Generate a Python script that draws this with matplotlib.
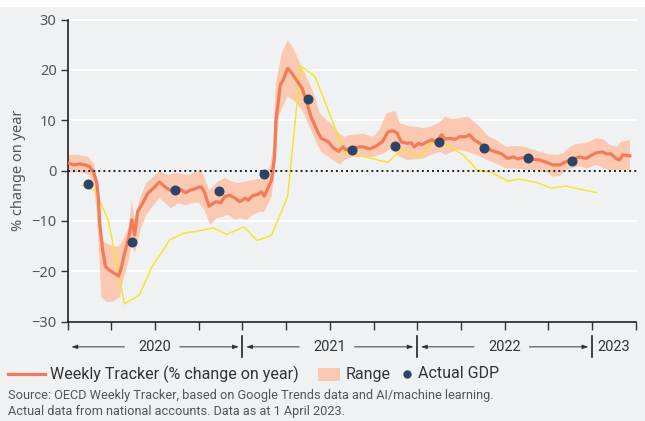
import numpy as np
import matplotlib
matplotlib.use("Agg")
import matplotlib.pyplot as plt
from matplotlib.lines import Line2D
from matplotlib.patches import Rectangle

    # x values are months since 1 Jan 2020
tracker_month = [0.0, 0.4, 0.8, 1.2, 1.5, 1.8, 2.0, 2.1, 2.2, 2.4, 2.6, 2.9, 3.2, 3.5, 3.7,
                 3.9, 4.2, 4.4, 4.6, 4.8, 5.2, 5.5, 5.9, 6.3, 6.7, 7.0, 7.4, 7.7, 8.1, 8.4,
                 8.7, 9.0, 9.2, 9.4, 9.7, 10.0, 10.2, 10.5, 10.8, 11.1, 11.5, 11.8, 12.2, 12.4,
                 12.7, 13.1, 13.3, 13.5, 13.8, 14.0, 14.2, 14.3, 14.6, 14.8, 15.1, 15.4, 15.7,
                 16.1, 16.4, 16.7, 17.1, 17.4, 17.9, 18.2, 18.6, 18.9, 19.1, 19.8, 20.3, 20.7,
                 21.1, 21.6, 22.0, 22.3, 22.6, 22.9, 23.3, 23.6, 23.8, 24.1, 24.3, 24.6, 25.0,
                 25.3, 25.7, 25.9, 26.2, 26.6, 26.9, 27.3, 27.6, 27.9, 28.3, 28.6, 29.0, 29.4,
                 29.8, 30.2, 30.6, 30.9, 31.3, 31.6, 32.0, 32.4, 32.9, 33.3, 33.8, 34.1, 34.5,
                 34.8, 35.2, 35.6, 36.0, 36.3, 36.7, 37.0, 37.3, 37.7, 37.9, 38.1, 38.6]
tracker_value = [1.5, 1.1, 1.3, 1.1, 0.8, -0.5, -2.5, -5.2, -10.5, -15.8, -19.1, -19.9, -20.4,
                 -21.0, -19.1, -16.5, -13.2, -9.8, -12.8, -8.2, -6.2, -4.5, -3.5, -2.3, -3.3,
                 -3.9, -3.5, -3.7, -4.4, -3.9, -3.7, -3.3, -3.3, -4.4, -7.1, -6.5, -6.2, -6.4,
                 -5.2, -4.9, -5.5, -6.2, -5.5, -5.9, -5.0, -4.7, -4.2, -5.1, -3.2, -1.9, 2.7,
                 10.0, 17.0, 18.0, 20.3, 19.3, 18.0, 16.3, 13.7, 10.7, 8.1, 6.4, 5.7, 4.6, 3.8,
                 4.7, 4.1, 4.6, 4.7, 4.3, 4.7, 5.7, 7.7, 7.9, 7.5, 5.7, 5.4, 5.5, 4.7, 5.4, 5.1,
                 5.6, 6.1, 5.7, 7.1, 6.2, 6.4, 6.2, 6.7, 6.7, 7.1, 6.1, 5.4, 4.7, 4.1, 3.7, 3.3,
                 2.4, 2.7, 2.3, 2.6, 2.4, 2.2, 2.1, 1.6, 1.1, 1.1, 1.6, 2.1, 2.4, 2.7, 2.4, 3.1,
                 3.5, 3.7, 3.3, 3.3, 2.3, 2.1, 3.1, 2.9]

range_hi_month = [0.0, 0.8, 1.4, 1.8, 2.0, 2.3, 2.7, 3.1, 3.5, 3.8, 4.2, 4.4, 4.6, 5.0, 5.4,
                  5.9, 6.3, 6.9, 7.4, 7.8, 8.3, 8.7, 9.2, 9.4, 9.7, 10.0, 10.3, 10.8, 11.3,
                  11.7, 12.2, 12.7, 13.4, 13.9, 14.1, 14.3, 14.7, 15.1, 15.5, 15.9, 16.4, 16.9,
                  17.3, 17.8, 18.2, 18.7, 19.0, 19.4, 20.3, 21.0, 21.4, 21.9, 22.5, 22.8, 23.4,
                  23.9, 24.4, 25.0, 25.6, 25.9, 26.4, 26.9, 27.5, 27.8, 28.3, 28.9, 29.4, 30.1,
                  30.8, 31.5, 32.2, 32.9, 33.6, 34.0, 34.5, 34.9, 35.4, 35.8, 36.3, 36.8, 37.2,
                  37.7, 38.0, 38.6]
range_hi = [3.1, 3.1, 2.7, 1.4, -1.9, -13.8, -14.5, -15.1, -15.1, -13.8, -11.2, -5.9, -9.8,
            -5.2, -2.5, -1.2, -0.2, -0.9, -0.5, -0.7, -0.9, -0.4, -0.2, -1.5, -3.9, -3.2, -2.2,
            -1.5, -2.2, -2.5, -2.2, -1.9, -1.5, 0.8, 4.7, 17.3, 23.3, 25.9, 24.3, 21.6, 18.6,
            15.3, 11.4, 10.0, 9.0, 7.2, 6.7, 7.1, 7.3, 6.7, 8.1, 11.4, 11.8, 9.4, 8.8, 8.7, 8.4,
            8.8, 9.7, 10.7, 10.2, 10.4, 10.7, 9.9, 8.7, 6.7, 6.1, 4.7, 4.9, 4.6, 3.9, 3.3, 3.1,
            3.4, 4.7, 5.3, 5.4, 5.7, 6.4, 6.2, 5.1, 4.7, 5.7, 6.1]

range_lo_month = [0.0, 0.8, 1.5, 1.8, 2.0, 2.2, 2.3, 2.7, 3.1, 3.6, 3.8, 4.2, 4.4, 4.6, 5.0,
                  5.4, 5.9, 6.3, 7.1, 7.6, 8.1, 8.5, 9.0, 9.4, 9.8, 10.2, 10.6, 11.0, 11.5,
                  11.8, 12.3, 12.7, 13.2, 13.5, 14.0, 14.2, 14.5, 14.8, 15.1, 15.6, 16.1, 16.5,
                  17.0, 17.4, 17.9, 18.4, 18.7, 19.0, 19.6, 20.3, 21.0, 21.7, 22.2, 22.8, 23.3,
                  23.8, 24.4, 25.1, 25.6, 25.9, 26.4, 26.9, 27.5, 28.1, 28.8, 29.4, 30.1, 30.8,
                  31.5, 32.2, 32.9, 33.3, 33.8, 34.1, 34.5, 35.2, 35.6, 36.3, 36.8, 37.2, 38.6]
range_lo = [-0.5, -0.2, -0.9, -3.2, -8.5, -18.4, -25.1, -26.1, -26.1, -25.1, -21.8, -17.8,
            -14.5, -16.5, -11.8, -8.8, -6.9, -5.5, -7.5, -6.5, -6.9, -6.5, -6.4, -7.9, -10.8,
            -9.5, -9.2, -8.8, -9.8, -9.5, -9.8, -8.8, -8.2, -8.2, -5.2, -0.5, 10.7, 13.0, 14.7,
            13.7, 12.0, 9.4, 6.1, 3.7, 2.7, 1.7, 1.2, 2.1, 2.7, 2.7, 2.7, 3.4, 4.4, 2.7, 2.1,
            2.2, 2.4, 3.3, 3.7, 3.1, 3.7, 4.1, 3.7, 3.1, 2.1, 1.4, 0.4, 0.4, 0.1, 0.1, -0.4,
            -1.2, -1.1, -0.2, 0.4, 0.8, 0.4, 1.1, 0.4, 0.1, 0.1]

gdp_month = [1.4, 4.4, 7.4, 10.4, 13.5, 16.5, 19.5, 22.5, 25.5, 28.6, 31.6, 34.6]
gdp_value = [-2.7, -14.3, -3.9, -4.1, -0.7, 14.3, 4.0, 4.9, 5.6, 4.4, 2.4, 1.9]

    # thin yellow series (not in legend)
yellow_month = [1.0, 1.9, 2.8, 3.9, 4.9, 5.8, 7.0, 7.9, 9.0, 10.0, 10.9, 12.1, 13.0, 14.0,
                15.1, 16.0, 17.0, 19.0, 22.0, 22.9, 24.2, 25.0, 25.9, 27.2, 28.1, 29.1, 30.2,
                31.0, 32.2, 33.2, 34.2, 36.3]
yellow_value = [-3.0, -4.0, -10.0, -26.5, -24.8, -19.1, -13.8, -12.5, -12.0, -11.4, -12.7,
                -11.2, -13.9, -12.9, -5.2, 20.8, 18.6, 3.7, 1.6, 4.2, 2.8, 5.5, 5.3, 3.0, 0.1,
                -0.4, -2.1, -1.7, -2.4, -3.5, -3.1, -4.4]

years = ["2020", "2021", "2022", "2023"]
year_start = [0, 12, 24, 36]
year_end = [12, 24, 36, 39]

legend_labels = ["Weekly Tracker (% change on year)", "Range", "Actual GDP"]

#--------------colours and fonts------------------------------------#
bg = "#f0f1f3"
line_col = "#f27b58"
band_col = "#fbc8b1"
dot_col = "#2b4467"
yellow = "#f3e61c"
text_font = ["Roboto", "DejaVu Sans"]
W, H = 645, 421

fig = plt.figure(figsize=(W / 100, H / 100), dpi=100, facecolor=bg)
fig.add_artist(Rectangle((0, 1 - 6 / H), 1, 6 / H, transform=fig.transFigure,
                         color="white", zorder=0))
ax = fig.add_axes([67.7 / W, 1 - 321.5 / H, (635.7 - 67.7) / W, 302 / H])
ax.set_facecolor(bg)

ax.set_xlim(0, 39)
ax.set_ylim(-30, 30)

    # white gridlines
for yv in [-20, -10, 10, 20, 30]:
    ax.axhline(yv, color="white", lw=1.5, zorder=1, clip_on=False)

ax.fill(np.concatenate([range_hi_month, range_lo_month[::-1]]),
        np.concatenate([range_hi, range_lo[::-1]]), color=band_col, lw=0, zorder=2)
ax.plot(yellow_month, yellow_value, color=yellow, lw=1.0, zorder=3)
ax.plot(tracker_month, tracker_value, color=line_col, lw=2.3, zorder=4)
ax.axhline(0, color="#222222", lw=1.4, ls=(0, (1, 1.6)), zorder=5, xmax=1.006, clip_on=False)
ax.scatter(gdp_month, gdp_value, s=52, color=dot_col, zorder=6, linewidths=0)

    # axes styling
for side in ["top", "right"]:
    ax.spines[side].set_visible(False)
for side in ["left", "bottom"]:
    ax.spines[side].set_color("#222222")
    ax.spines[side].set_linewidth(1.2)
ax.set_xticks(np.arange(0, 40, 3))
ax.set_xticklabels([])
ax.tick_params(axis="x", length=6, width=1.0, color="#333333")
ax.set_yticks([-30, -20, -10, 0, 10, 20, 30])
ax.tick_params(axis="y", length=5, width=1.0, color="#333333", labelsize=10.5,
               labelcolor="#555555", pad=3)
for lab in ax.get_yticklabels():
    lab.set_family(["Noto Sans", "DejaVu Sans"])
ax.set_ylabel("% change on year", fontsize=10.5, color="#555555",
              family=["Noto Sans", "DejaVu Sans"], labelpad=4)

    # year bands under the axis
row_y = -0.084
arrow_style = "-|>,head_length=0.35,head_width=0.12"
for i in range(len(years)):
    s, e = year_start[i], year_end[i]
    mid = (s + e) / 2
    ax.text(mid, row_y, years[i], transform=ax.get_xaxis_transform(), ha="center",
            va="center", fontsize=10.5, color="#333333", family=text_font)
    if e - s == 12:
        ax.annotate("", xy=(s + 0.25, row_y), xytext=(s + 3.9, row_y),
                    xycoords=ax.get_xaxis_transform(),
                    arrowprops=dict(arrowstyle=arrow_style, color="#333333", lw=0.7,
                                    shrinkA=0, shrinkB=0))
        ax.annotate("", xy=(e - 0.25, row_y), xytext=(e - 4.3, row_y),
                    xycoords=ax.get_xaxis_transform(),
                    arrowprops=dict(arrowstyle=arrow_style, color="#333333", lw=0.7,
                                    shrinkA=0, shrinkB=0))
    if s > 0:
        ax.plot([s, s], [-0.048, -0.118], transform=ax.get_xaxis_transform(),
                color="#222222", lw=1.2, clip_on=False)

    # legend drawn by hand so each key keeps its own width
ly = 1 - 374 / H
fig.add_artist(Line2D([8 / W, 45 / W], [ly, ly], color=line_col, lw=2.3,
                      transform=fig.transFigure))
fig.text(50 / W, ly, legend_labels[0], fontsize=11.5, color="#333333", va="center",
         family=text_font)
fig.add_artist(Rectangle((318 / W, ly - 6.5 / H), 22 / W, 13 / H, color=band_col, lw=0,
                         transform=fig.transFigure))
fig.text(346 / W, ly, legend_labels[1], fontsize=11.5, color="#333333", va="center",
         family=text_font)
fig.add_artist(Line2D([407 / W], [ly], ls="none", marker="o", markersize=5, color=dot_col,
                      transform=fig.transFigure))
fig.text(418 / W, ly, legend_labels[2], fontsize=11.5, color="#333333", va="center",
         family=text_font)

fig.text(0.012, 1 - 396 / H,
         "Source: OECD Weekly Tracker, based on Google Trends data and AI/machine learning.",
         fontsize=9.2, color="#555555", va="center", family=text_font)
fig.text(0.012, 1 - 411 / H,
         "Actual data from national accounts. Data as at 1 April 2023.",
         fontsize=9.2, color="#555555", va="center", family=text_font)

fig.savefig("out.png", dpi=100, facecolor=bg)
